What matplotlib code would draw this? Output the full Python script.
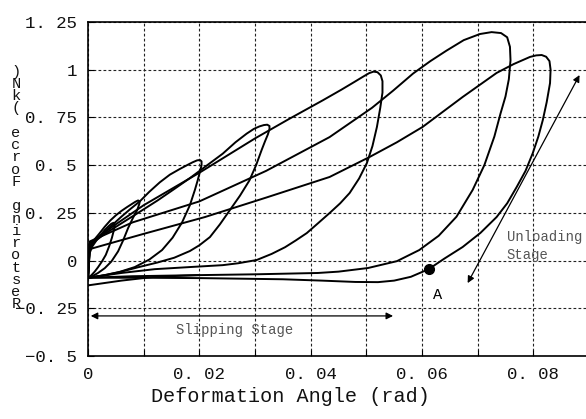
import matplotlib
matplotlib.use("Agg")
import matplotlib.pyplot as plt
from matplotlib.ticker import MultipleLocator, FixedLocator

# ---------------- data ----------------
loop1_x = [0, 0.0003, 0.0008, 0.0015, 0.0023, 0.003, 0.0037, 0.0042, 0.0046, 0.0048, 0.0047,
           0.0043, 0.0038, 0.0032, 0.0025, 0.0018, 0.0012, 0.0006, 0]
loop1_y = [-0.09, 0.04, 0.075, 0.105, 0.135, 0.16, 0.18, 0.193, 0.198, 0.19, 0.165,
           0.12, 0.075, 0.03, -0.005, -0.035, -0.058, -0.077, -0.09]

loop2_x = [0, 0.0003, 0.001, 0.002, 0.003, 0.004, 0.005, 0.006, 0.007, 0.0078, 0.0085, 0.009,
           0.0093, 0.0092, 0.0088, 0.0081, 0.0072, 0.0063, 0.0054, 0.0042, 0.003, 0.0018,
           0.0007, 0]
loop2_y = [-0.09, 0.06, 0.105, 0.14, 0.177, 0.21, 0.237, 0.26, 0.28, 0.295, 0.308, 0.315,
           0.31, 0.295, 0.262, 0.225, 0.17, 0.105, 0.048, -0.005, -0.04, -0.065,
           -0.083, -0.09]

loop3_x = [0, 0.0003, 0.0015, 0.003, 0.0045, 0.006, 0.0076, 0.0093, 0.011, 0.0129, 0.0147,
           0.0165, 0.0178, 0.0188, 0.0196, 0.0201, 0.0204, 0.0204, 0.0201, 0.0197, 0.0192,
           0.0183, 0.0169, 0.0152, 0.0133, 0.011, 0.0084, 0.0056, 0.003, 0.0012, 0]
loop3_y = [-0.09, 0.07, 0.11, 0.15, 0.19, 0.23, 0.27, 0.31, 0.36, 0.41, 0.45,
           0.48, 0.5, 0.515, 0.525, 0.527, 0.52, 0.5, 0.465, 0.42, 0.37,
           0.29, 0.2, 0.12, 0.055, 0.005, -0.034, -0.06, -0.076, -0.085, -0.09]

loop4_x = [0, 0.0003, 0.003, 0.006, 0.009, 0.0125, 0.0155, 0.0183, 0.0212, 0.0242, 0.0265,
           0.0285, 0.0298, 0.0308, 0.0316, 0.0322, 0.0326, 0.0326, 0.0323, 0.0318, 0.0312,
           0.0302, 0.029, 0.0273, 0.0255, 0.0237, 0.0219, 0.02, 0.0183, 0.0155, 0.0125,
           0.009, 0.006, 0.003, 0]
loop4_y = [-0.09, 0.08, 0.14, 0.195, 0.25, 0.315, 0.375, 0.432, 0.495, 0.56, 0.62,
           0.665, 0.69, 0.703, 0.71, 0.712, 0.705, 0.688, 0.66, 0.625, 0.58,
           0.5, 0.42, 0.34, 0.265, 0.19, 0.123, 0.08, 0.05, 0.015, -0.01,
           -0.035, -0.058, -0.077, -0.09]

loop5_x = [0, 0.0003, 0.005, 0.01, 0.015, 0.02, 0.025, 0.03, 0.036, 0.0422, 0.0455, 0.0478,
           0.0495, 0.0505, 0.0513, 0.052, 0.0526, 0.0529, 0.0529, 0.0525, 0.0519, 0.0511,
           0.0501, 0.0487, 0.047, 0.0453, 0.0434, 0.0413, 0.0393, 0.0373, 0.0354, 0.033,
           0.0303, 0.027, 0.0242, 0.0183, 0.012, 0.006, 0]
loop5_y = [-0.09, 0.09, 0.19, 0.29, 0.375, 0.46, 0.55, 0.64, 0.74, 0.84, 0.895, 0.935,
           0.965, 0.982, 0.99, 0.987, 0.97, 0.94, 0.88, 0.8, 0.7, 0.6,
           0.511, 0.43, 0.354, 0.3, 0.249, 0.195, 0.144, 0.105, 0.07, 0.035,
           0.003, -0.014, -0.024, -0.034, -0.045, -0.065, -0.09]

loop6_x = [0, 0.0003, 0.008, 0.02, 0.032, 0.0434, 0.051, 0.0548, 0.0584, 0.0615, 0.0644,
           0.0675, 0.0704, 0.0725, 0.0742, 0.0753, 0.0758, 0.0759, 0.0756, 0.075, 0.0741,
           0.073, 0.0712, 0.0691, 0.0662, 0.063, 0.0595, 0.0555, 0.0503, 0.045, 0.0413,
           0.03, 0.0205, 0.008, 0]
loop6_y = [-0.09, 0.10, 0.20, 0.31, 0.47, 0.647, 0.80, 0.89, 0.98, 1.045, 1.10,
           1.155, 1.187, 1.197, 1.192, 1.17, 1.12, 1.05, 0.95, 0.86, 0.77,
           0.65, 0.5, 0.37, 0.23, 0.13, 0.055, -0.003, -0.039, -0.058, -0.065,
           -0.072, -0.076, -0.082, -0.09]

loop7_x = [0, 0.0003, 0.01, 0.021, 0.032, 0.0434, 0.0506, 0.0555, 0.0601, 0.0673, 0.0734,
           0.0765, 0.0794, 0.0805, 0.0815, 0.0823, 0.0829, 0.0831, 0.083, 0.0824, 0.0817,
           0.0809, 0.0799, 0.0786, 0.077, 0.0753, 0.0734, 0.0705, 0.0673, 0.064, 0.0612,
           0.058, 0.055, 0.0521, 0.048, 0.042, 0.035, 0.0205, 0.01, 0]
loop7_y = [-0.09, 0.06, 0.14, 0.228, 0.33, 0.438, 0.543, 0.62, 0.70, 0.857, 0.983,
           1.03, 1.067, 1.075, 1.077, 1.068, 1.045, 1.0, 0.93, 0.83, 0.736,
           0.65, 0.563, 0.47, 0.385, 0.3, 0.228, 0.145, 0.071, 0.01, -0.045,
           -0.085, -0.105, -0.113, -0.112, -0.105, -0.098, -0.092, -0.09, -0.09]

initial_x = [0, 0.006, 0.012, 0.02]
initial_y = [-0.13, -0.105, -0.085, -0.076]

point_A = (0.0612, -0.045)

x_ticks = [0, 0.02, 0.04, 0.06, 0.08]
x_tick_labels = ["0", "0. 02", "0. 04", "0. 06", "0. 08"]
y_ticks = [-0.5, -0.25, 0, 0.25, 0.5, 0.75, 1, 1.25]
y_tick_labels = ["\u22120. 5", "\u22120. 25", "0", "0. 25", "0. 5", "0. 75", "1", "1. 25"]

x_label = "Deformation Angle (rad)"
y_label = "Restoring Force (kN)"

# ---------------- figure ----------------
FONT = "Liberation Mono"
fig = plt.figure(figsize=(5.86, 4.19), dpi=100)
ax = fig.add_axes([88 / 586, 1 - 356 / 419, 501 / 586, 334 / 419])

loops = [(loop1_x, loop1_y), (loop2_x, loop2_y), (loop3_x, loop3_y), (loop4_x, loop4_y),
         (loop5_x, loop5_y), (loop6_x, loop6_y), (loop7_x, loop7_y), (initial_x, initial_y)]
for lx, ly in loops:
    ax.plot(lx, ly, color="black", lw=1.4, solid_joinstyle="round", solid_capstyle="round")

ax.plot([point_A[0]], [point_A[1]], "o", color="black", markersize=7)
ax.text(0.0628, -0.18, "A", fontsize=11, family=FONT, ha="center", va="center")

# slipping stage arrow
ax.annotate("", xy=(0.0005, -0.29), xytext=(0.0548, -0.29),
            arrowprops=dict(arrowstyle="<|-|>", color="black", lw=0.9,
                            mutation_scale=10, shrinkA=0, shrinkB=0))
ax.text(0.0264, -0.365, "Slipping Stage", fontsize=10, family=FONT, color="#555555",
        ha="center", va="center")

# unloading stage arrow
ax.annotate("", xy=(0.0682, -0.118), xytext=(0.0883, 0.972),
            arrowprops=dict(arrowstyle="<|-|>", color="black", lw=0.9,
                            mutation_scale=10, shrinkA=0, shrinkB=0))
ax.text(0.0752, 0.123, "Unloading", fontsize=10, family=FONT, color="#555555",
        ha="left", va="center")
ax.text(0.0752, 0.03, "Stage", fontsize=10, family=FONT, color="#555555",
        ha="left", va="center")

ax.set_xlim(0, 0.09)
ax.set_ylim(-0.5, 1.25)

ax.xaxis.set_major_locator(FixedLocator(x_ticks))
ax.set_xticklabels(x_tick_labels)
ax.xaxis.set_minor_locator(MultipleLocator(0.01))
ax.yaxis.set_major_locator(FixedLocator(y_ticks))
ax.set_yticklabels(y_tick_labels)

ax.grid(True, which="both", axis="x", color="#222222", lw=0.8, linestyle=(0, (2.5, 2)))
ax.grid(True, which="major", axis="y", color="#222222", lw=0.8, linestyle=(0, (2.5, 2)))

ax.tick_params(axis="both", which="both", direction="in", length=4, width=0.8,
               labelsize=12.5, pad=8)
for lab in ax.get_xticklabels() + ax.get_yticklabels():
    lab.set_family(FONT)
    lab.set_color("#111111")

for s in ["left", "bottom", "top"]:
    ax.spines[s].set_linewidth(1.2)
ax.spines["right"].set_visible(False)

fig.text(290 / 586, 1 - 396 / 419, x_label, fontsize=14.5, family=FONT, ha="center",
         va="center", color="#111111")

stacked = "\n".join(reversed(y_label))
fig.text(16 / 586, 1 - 188 / 419, stacked, fontsize=11, family=FONT, ha="center",
         va="center", linespacing=0.84, color="#111111")

fig.savefig("out.png", dpi=100)
